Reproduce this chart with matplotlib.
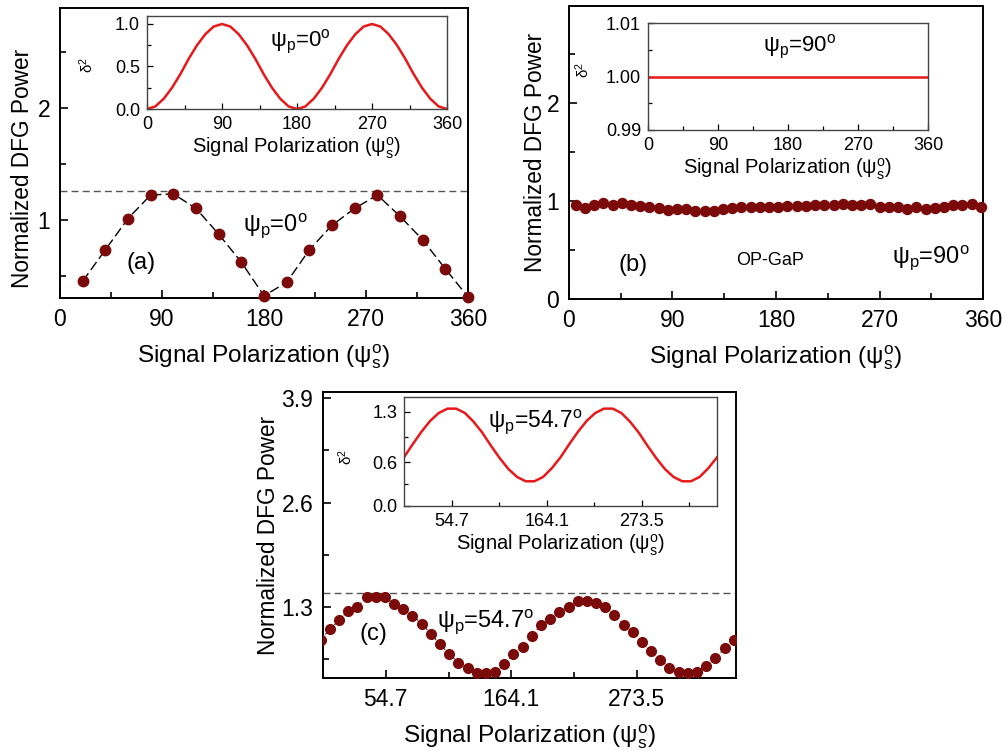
import matplotlib
matplotlib.use("Agg")
import matplotlib.pyplot as plt
from matplotlib.ticker import MultipleLocator, FixedLocator

plt.rcParams['font.family'] = ['Liberation Sans', 'DejaVu Sans']
plt.rcParams['mathtext.fontset'] = 'custom'
plt.rcParams['mathtext.rm'] = 'Liberation Sans'
plt.rcParams['mathtext.it'] = 'Liberation Sans:italic'

# ---------------- data ----------------
# panel (a)
a_x = [20, 40, 60, 80, 100, 120, 140, 160, 180, 200, 220, 240, 260, 280, 300, 320, 340, 360]
a_y = [0.45, 0.73, 1.01, 1.22, 1.23, 1.10, 0.87, 0.62, 0.32, 0.44, 0.73, 0.95, 1.10, 1.22, 1.03, 0.82, 0.56, 0.31]
a_ref = 1.26
# panel (a) inset (theory curve, read every 10 deg)
ins_x = list(range(0, 361, 10))
a_ins_y = [0.00, 0.03, 0.12, 0.25, 0.41, 0.59, 0.75, 0.88, 0.97, 1.00,
           0.97, 0.88, 0.75, 0.59, 0.41, 0.25, 0.12, 0.03, 0.00,
           0.03, 0.12, 0.25, 0.41, 0.59, 0.75, 0.88, 0.97, 1.00,
           0.97, 0.88, 0.75, 0.59, 0.41, 0.25, 0.12, 0.03, 0.00]

# panel (b)
b_x = [6 + 8 * k for k in range(45)]
b_y = [0.96, 0.93, 0.96, 0.98, 0.96, 0.98, 0.96, 0.95, 0.94, 0.93,
       0.91, 0.92, 0.92, 0.90, 0.90, 0.90, 0.92, 0.93, 0.94, 0.94,
       0.94, 0.94, 0.94, 0.95, 0.95, 0.95, 0.96, 0.96, 0.96, 0.97,
       0.96, 0.96, 0.97, 0.94, 0.94, 0.94, 0.92, 0.94, 0.92, 0.93,
       0.94, 0.96, 0.96, 0.97, 0.94]
b_ins_x = [0, 360]
b_ins_y = [1.00, 1.00]

# panel (c)
c_x = [-2 + 8 * k for k in range(46)]
c_y = [0.89, 1.02, 1.13, 1.25, 1.30, 1.42, 1.42, 1.42, 1.33, 1.27,
       1.19, 1.09, 0.96, 0.83, 0.71, 0.60, 0.53, 0.47, 0.47, 0.48,
       0.58, 0.71, 0.80, 0.94, 1.07, 1.15, 1.24, 1.30, 1.37, 1.37,
       1.35, 1.30, 1.20, 1.07, 0.98, 0.86, 0.75, 0.64, 0.54, 0.49,
       0.47, 0.49, 0.56, 0.66, 0.78, 0.88]
c_ref = 1.47
c_ins_y = [0.67, 0.85, 1.02, 1.17, 1.28, 1.34, 1.34, 1.28, 1.16, 1.01,
           0.83, 0.66, 0.51, 0.40, 0.34, 0.34, 0.40, 0.52, 0.67,
           0.85, 1.02, 1.17, 1.28, 1.34, 1.34, 1.28, 1.16, 1.01,
           0.83, 0.66, 0.51, 0.40, 0.34, 0.34, 0.40, 0.52, 0.67]

c_ticks = [54.7, 164.1, 273.5]
c_minor = [109.4, 218.8, 328.2]

xlabel = 'Signal Polarization (ψ$_\\mathregular{s}^\\mathregular{o}$)'
ylabel = 'Normalized DFG Power'
dlabel = 'δ$^\\mathregular{2}$'

dot = '#7b0a0a'
red = '#e8191b'

fig = plt.figure(figsize=(10.03, 7.51), dpi=100)
W, H = 1003.0, 751.0


def ax_px(l, t, r, b):
    return fig.add_axes([l / W, 1 - b / H, (r - l) / W, (b - t) / H])


def style_main(ax, ypad):
    for s in ax.spines.values():
        s.set_linewidth(1.4)
    ax.tick_params(direction='in', which='both', labelsize=16.5, width=1.2, pad=7)
    ax.tick_params(which='major', length=6)
    ax.tick_params(which='minor', length=4)
    ax.set_xlabel(xlabel, fontsize=17.6, labelpad=8)
    ax.set_ylabel(ylabel, fontsize=16.3, labelpad=ypad)


def style_inset(ax, lx, ly):
    for s in ax.spines.values():
        s.set_linewidth(1.0)
        s.set_color('#444444')
    ax.tick_params(direction='in', which='both', labelsize=13, width=0.9, pad=5)
    ax.tick_params(which='major', length=4)
    ax.tick_params(which='minor', length=3)
    ax.set_xlabel(xlabel, fontsize=14.5, labelpad=2)
    ax.set_ylabel(dlabel, fontsize=11)
    ax.yaxis.set_label_coords(lx, ly)


def txt(ax, x, y, s, fs):
    ax.text(x, y, s, transform=ax.transAxes, fontsize=fs, ha='center', va='center')


# ---- (a) ----
ax = ax_px(60, 8, 468, 298)
ax.plot(a_x, a_y, color='black', lw=1.0, dashes=(7, 3), zorder=2)
ax.plot(a_x, a_y, 'o', color=dot, ms=7.5, zorder=3, clip_on=False)
ax.axhline(a_ref, color='#555555', lw=1.0, dashes=(5, 3))
ax.set_xlim(0, 360)
ax.set_ylim(0.3, 2.89)
ax.xaxis.set_major_locator(MultipleLocator(90))
ax.xaxis.set_minor_locator(MultipleLocator(45))
ax.yaxis.set_major_locator(FixedLocator([1, 2]))
ax.yaxis.set_minor_locator(FixedLocator([0.5, 1.5, 2.5]))
style_main(ax, 2.5)
ax.yaxis.label.set_y(0.447)
txt(ax, 0.199, 0.12, '(a)', 17)
txt(ax, 0.527, 0.25, 'ψ$_\\mathregular{p}$=0$^\\mathregular{o}$', 17)

ai = ax_px(147, 16, 447, 109)
ai.plot(ins_x, a_ins_y, color=red, lw=1.8)
ai.set_xlim(0, 360)
ai.set_ylim(0, 1.094)
ai.xaxis.set_major_locator(MultipleLocator(90))
ai.xaxis.set_minor_locator(MultipleLocator(45))
ai.yaxis.set_major_locator(FixedLocator([0.0, 0.5, 1.0]))
ai.yaxis.set_minor_locator(FixedLocator([0.25, 0.75]))
ai.set_yticklabels(['0.0', '0.5', '1.0'])
style_inset(ai, (96 - 147) / 300.0, 0.47)
txt(ai, 0.51, 0.72, 'ψ$_\\mathregular{p}$=0$^\\mathregular{o}$', 16)

# ---- (b) ----
bx = ax_px(569, 6, 983, 299)
bx.plot(b_x, b_y, 'o', color=dot, ms=7.2, zorder=3, clip_on=False)
bx.set_xlim(0, 360)
bx.set_ylim(0, 2.99)
bx.xaxis.set_major_locator(MultipleLocator(90))
bx.xaxis.set_minor_locator(MultipleLocator(45))
bx.yaxis.set_major_locator(FixedLocator([0, 1, 2]))
bx.yaxis.set_minor_locator(FixedLocator([0.5, 1.5, 2.5]))
style_main(bx, -0.3)
txt(bx, 0.155, 0.116, '(b)', 17)
txt(bx, 0.486, 0.133, 'OP-GaP', 13)
txt(bx, 0.875, 0.14, 'ψ$_\\mathregular{p}$=90$^\\mathregular{o}$', 17)

bi = ax_px(648, 23, 928, 130)
bi.plot(b_ins_x, b_ins_y, color=red, lw=1.8)
bi.set_xlim(0, 360)
bi.set_ylim(0.99, 1.01)
bi.xaxis.set_major_locator(MultipleLocator(90))
bi.xaxis.set_minor_locator(MultipleLocator(45))
bi.yaxis.set_major_locator(FixedLocator([0.99, 1.00, 1.01]))
bi.yaxis.set_minor_locator(FixedLocator([0.995, 1.005]))
bi.set_yticklabels(['0.99', '1.00', '1.01'])
style_inset(bi, (592 - 648) / 280.0, 0.56)
txt(bi, 0.543, 0.776, 'ψ$_\\mathregular{p}$=90$^\\mathregular{o}$', 16)

# ---- (c) ----
cx = ax_px(323, 392, 736, 678)
cx.plot(c_x, c_y, color='#333333', lw=0.8, dashes=(2, 4), zorder=2)
cx.plot(c_x, c_y, 'o', color=dot, ms=7, zorder=3)
cx.axhline(c_ref, color='#555555', lw=1.0, dashes=(5, 3))
cx.set_xlim(0, 360)
cx.set_ylim(0.41, 3.98)
cx.xaxis.set_major_locator(FixedLocator(c_ticks))
cx.xaxis.set_minor_locator(FixedLocator(c_minor))
cx.set_xticklabels(['54.7', '164.1', '273.5'])
cx.yaxis.set_major_locator(FixedLocator([1.3, 2.6, 3.9]))
cx.yaxis.set_minor_locator(FixedLocator([0.65, 1.95, 3.25]))
cx.set_yticklabels(['1.3', '2.6', '3.9'])
style_main(cx, 1.1)
txt(cx, 0.123, 0.154, '(c)', 17)
txt(cx, 0.395, 0.196, 'ψ$_\\mathregular{p}$=54.7$^\\mathregular{o}$', 17)

ci = ax_px(404, 397, 717, 506)
ci.plot(ins_x, c_ins_y, color=red, lw=1.8)
ci.set_xlim(0, 360)
ci.set_ylim(0, 1.5)
ci.xaxis.set_major_locator(FixedLocator(c_ticks))
ci.xaxis.set_minor_locator(FixedLocator(c_minor))
ci.set_xticklabels(['54.7', '164.1', '273.5'])
ci.yaxis.set_major_locator(FixedLocator([0.0, 0.6, 1.3]))
ci.yaxis.set_minor_locator(FixedLocator([0.3, 0.95]))
ci.set_yticklabels(['0.0', '0.6', '1.3'])
style_inset(ci, (355 - 404) / 313.0, 0.45)
txt(ci, 0.419, 0.77, 'ψ$_\\mathregular{p}$=54.7$^\\mathregular{o}$', 16.5)

fig.savefig('out.png', dpi=100)
